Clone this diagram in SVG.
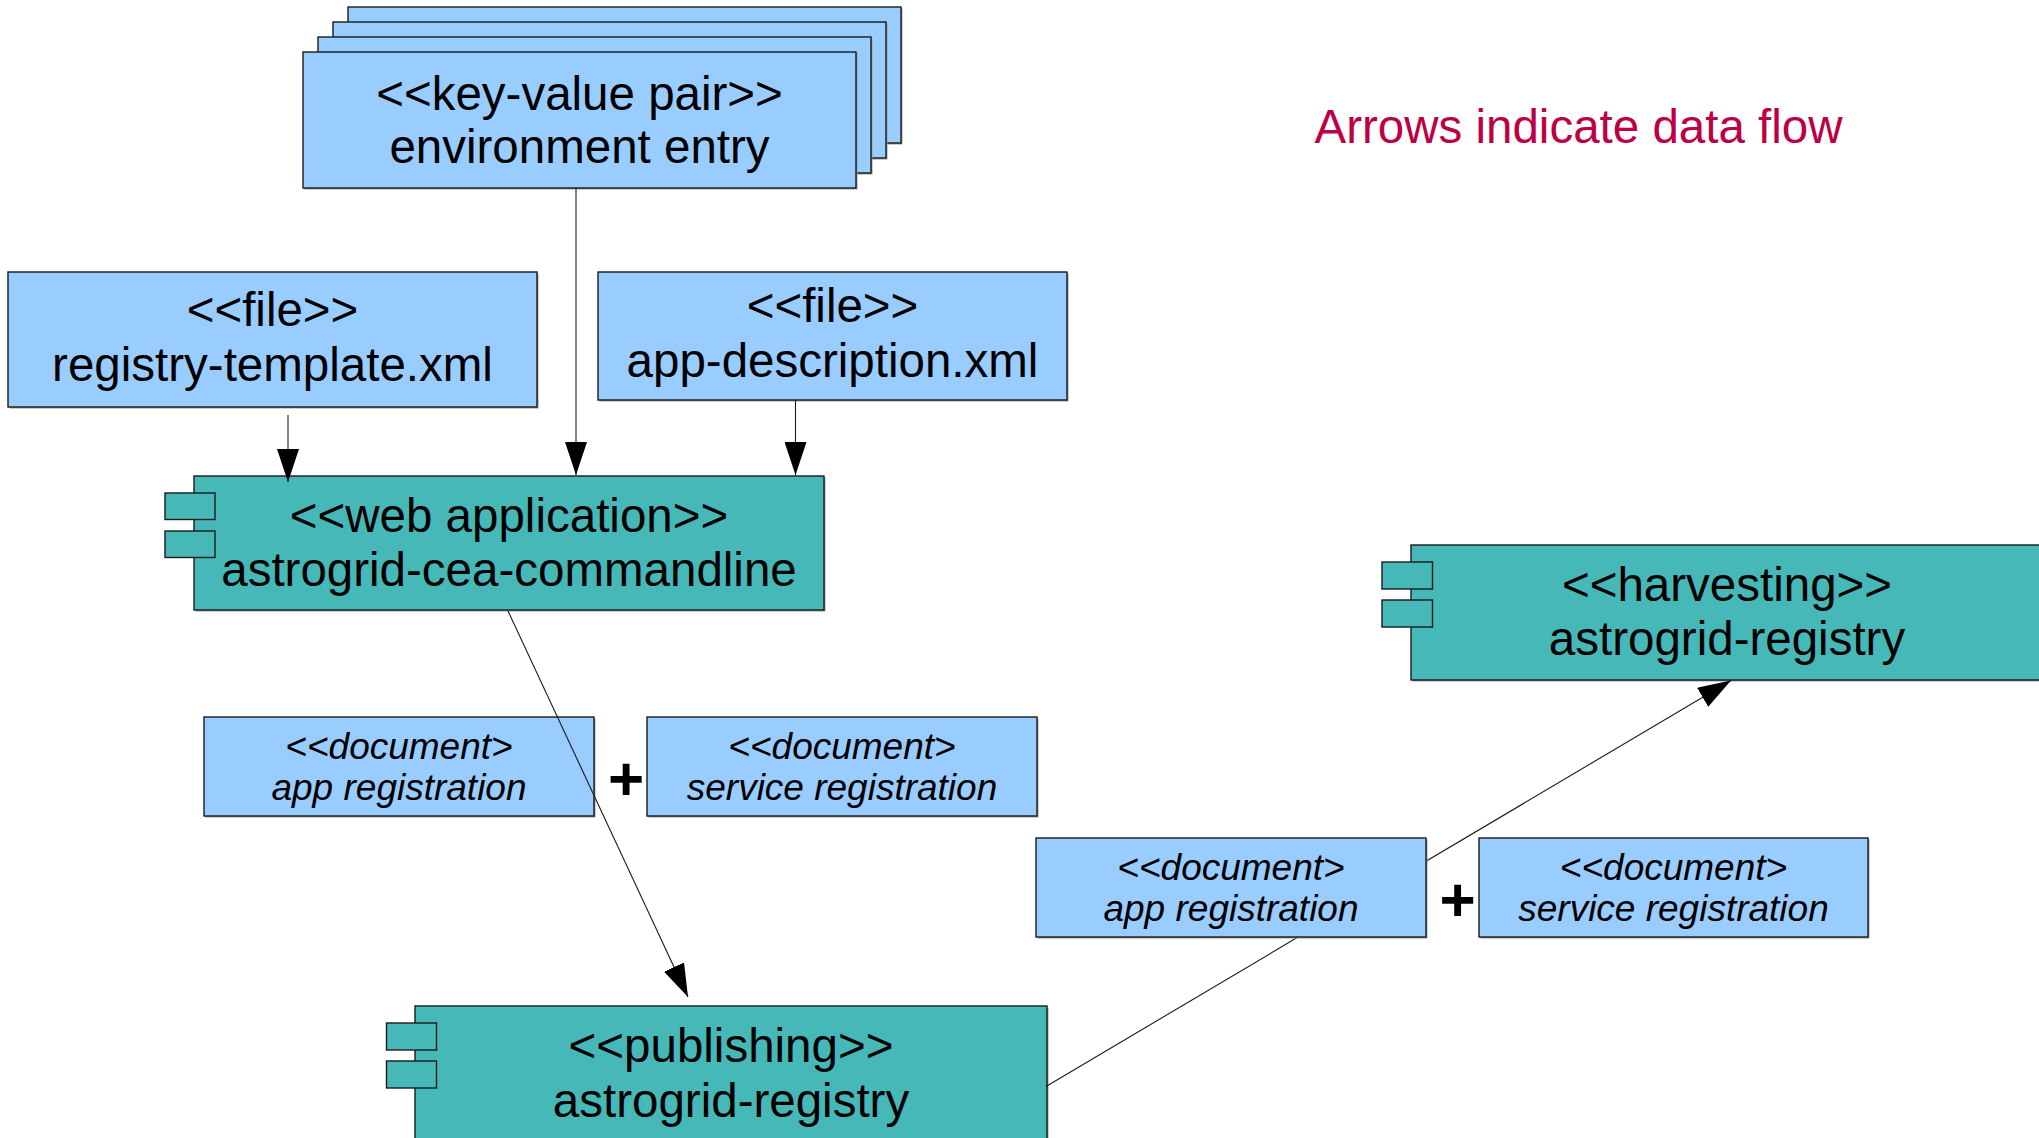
<svg xmlns="http://www.w3.org/2000/svg" width="2039" height="1138" viewBox="0 0 2039 1138">
<defs>
<style>
.file{fill:#99ccff;stroke:#1a1a1a;stroke-width:1.4}
.comp{fill:#47b8b8;stroke:#1a1a1a;stroke-width:1.4}
.sh{fill:#9a9a9a}
.t{font-family:"Liberation Sans",Arial,sans-serif;font-size:47.5px;fill:#000;text-anchor:middle}
.d{font-family:"Liberation Sans",Arial,sans-serif;font-size:37px;font-style:italic;fill:#000;text-anchor:middle}
.plus{font-family:"Liberation Sans",Arial,sans-serif;font-size:62px;font-weight:bold;fill:#000;text-anchor:middle}
.note{font-family:"Liberation Sans",Arial,sans-serif;font-size:47.5px;fill:#bd0045;text-anchor:middle}
.c{stroke:#1a1a1a;stroke-width:1.1;fill:none}
</style>
<marker id="ah" markerUnits="userSpaceOnUse" markerWidth="34" markerHeight="22" refX="33" refY="11" orient="auto">
<path d="M0,0 L33,11 L0,22 z" fill="#000"/>
</marker>
</defs>
<rect width="2039" height="1138" fill="#fff"/>

<g id="env-entry">
<rect class="sh" x="349.5" y="8.5" width="553" height="136"/>
<rect class="file" x="348" y="7" width="553" height="136"/>
<rect class="sh" x="334.5" y="23.5" width="553" height="136"/>
<rect class="file" x="333" y="22" width="553" height="136"/>
<rect class="sh" x="319.5" y="38.5" width="553" height="136"/>
<rect class="file" x="318" y="37" width="553" height="136"/>
<rect class="sh" x="304.5" y="53.5" width="553" height="136"/>
<rect class="file" x="303" y="52" width="553" height="136"/>
<text class="t" x="579.5" y="109.5">&lt;&lt;key-value pair&gt;&gt;</text>
<text class="t" x="579.5" y="163">environment entry</text>
</g>

<g id="registry-template">
<rect class="sh" x="9.5" y="273.5" width="529" height="135"/>
<rect class="file" x="8" y="272" width="529" height="135"/>
<text class="t" x="272.5" y="326">&lt;&lt;file&gt;&gt;</text>
<text class="t" x="272.5" y="381">registry-template.xml</text>
</g>

<g id="app-description">
<rect class="sh" x="599.5" y="273.5" width="469" height="128"/>
<rect class="file" x="598" y="272" width="469" height="128"/>
<text class="t" x="832.5" y="322">&lt;&lt;file&gt;&gt;</text>
<text class="t" x="832.5" y="377">app-description.xml</text>
</g>

<g id="cea-commandline">
<rect class="sh" x="195.5" y="477.5" width="630" height="134"/>
<rect class="comp" x="194" y="476" width="630" height="134"/>
<rect class="comp" x="165" y="493" width="50" height="26.5"/>
<rect class="comp" x="165" y="531" width="50" height="26.5"/>
<text class="t" x="509" y="532">&lt;&lt;web application&gt;&gt;</text>
<text class="t" x="509" y="586">astrogrid-cea-commandline</text>
</g>

<g id="harvesting-registry">
<rect class="sh" x="1412.5" y="546.5" width="632" height="135"/>
<rect class="comp" x="1411" y="545" width="632" height="135"/>
<rect class="comp" x="1382" y="562" width="50.5" height="27"/>
<rect class="comp" x="1382" y="600" width="50.5" height="27"/>
<text class="t" x="1727" y="601">&lt;&lt;harvesting&gt;&gt;</text>
<text class="t" x="1727" y="655">astrogrid-registry</text>
</g>

<g id="publishing-registry">
<rect class="sh" x="416.5" y="1007.5" width="632" height="134"/>
<rect class="comp" x="415" y="1006" width="632" height="134"/>
<rect class="comp" x="386.5" y="1023" width="50" height="27"/>
<rect class="comp" x="386.5" y="1061" width="50" height="27"/>
<text class="t" x="731" y="1062">&lt;&lt;publishing&gt;&gt;</text>
<text class="t" x="731" y="1117">astrogrid-registry</text>
</g>

<g id="doc-app-reg-1">
<rect class="sh" x="205.5" y="718.5" width="390" height="99"/>
<rect class="file" x="204" y="717" width="390" height="99"/>
<text class="d" x="399" y="758.5">&lt;&lt;document&gt;</text>
<text class="d" x="399" y="799.5">app registration</text>
</g>

<g id="plus-1">
<text class="plus" x="626" y="800">+</text>
</g>

<g id="doc-service-reg-1">
<rect class="sh" x="648.5" y="718.5" width="390" height="99"/>
<rect class="file" x="647" y="717" width="390" height="99"/>
<text class="d" x="842" y="758.5">&lt;&lt;document&gt;</text>
<text class="d" x="842" y="799.5">service registration</text>
</g>

<g id="connectors">
<line class="c" x1="288" y1="415" x2="288" y2="482" marker-end="url(#ah)"/>
<line class="c" x1="576" y1="188" x2="576" y2="475" marker-end="url(#ah)"/>
<line class="c" x1="795.5" y1="400" x2="795.5" y2="475" marker-end="url(#ah)"/>
<line class="c" x1="508" y1="611" x2="688" y2="997" marker-end="url(#ah)"/>
<line class="c" x1="1046" y1="1086.5" x2="1731" y2="680.5" marker-end="url(#ah)"/>
</g>

<g id="doc-app-reg-2">
<rect class="sh" x="1037.5" y="839.5" width="390" height="99"/>
<rect class="file" x="1036" y="838" width="390" height="99"/>
<text class="d" x="1231" y="879.5">&lt;&lt;document&gt;</text>
<text class="d" x="1231" y="920.5">app registration</text>
</g>

<g id="plus-2">
<text class="plus" x="1457.5" y="921">+</text>
</g>

<g id="doc-service-reg-2">
<rect class="sh" x="1480.5" y="839.5" width="389" height="99"/>
<rect class="file" x="1479" y="838" width="389" height="99"/>
<text class="d" x="1673.5" y="879.5">&lt;&lt;document&gt;</text>
<text class="d" x="1673.5" y="920.5">service registration</text>
</g>

<g id="legend">
<text class="note" x="1578.5" y="143">Arrows indicate data flow</text>
</g>
</svg>
